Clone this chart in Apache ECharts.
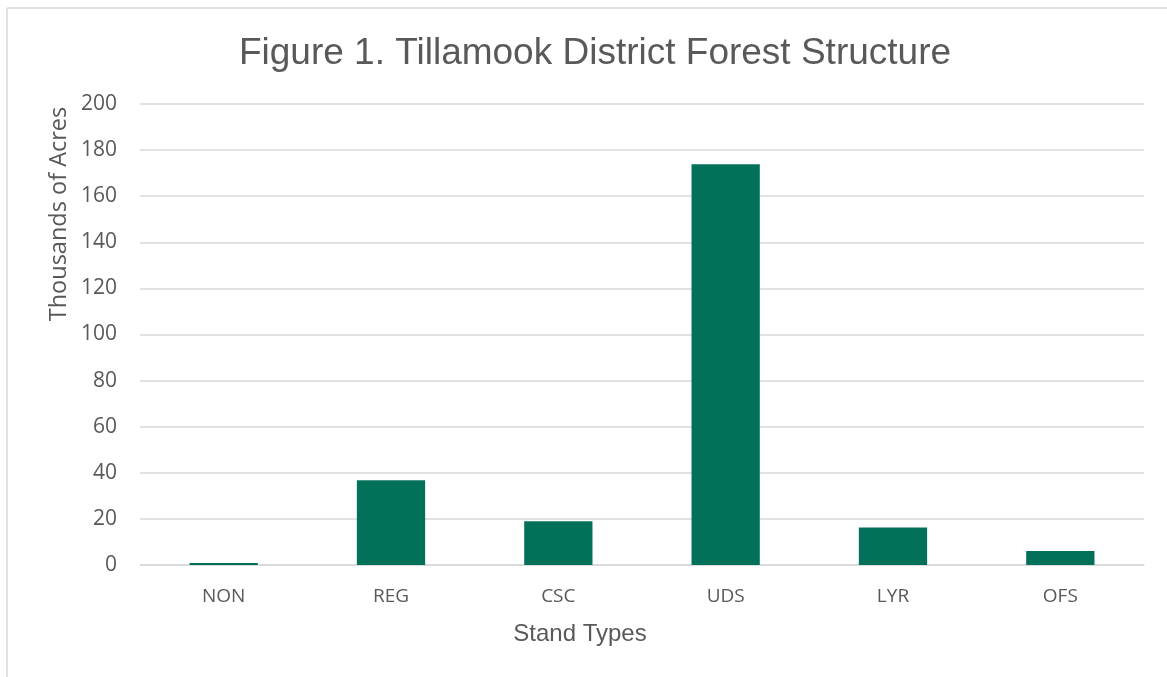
<!DOCTYPE html>
<html>
<head>
<meta charset="utf-8">
<script src="https://cdn.jsdelivr.net/npm/echarts@6/dist/echarts.min.js"></script>
<style>html,body{margin:0;padding:0;background:#fff;}#c{width:1167px;height:677px;}</style>
</head>
<body>
<div id="c"></div>
<script>
const categories = ['NON', 'REG', 'CSC', 'UDS', 'LYR', 'OFS'];
const acres = [0.9, 36.8, 19.0, 173.9, 16.3, 6.1];
const yTicks = [0, 20, 40, 60, 80, 100, 120, 140, 160, 180, 200];

const chart = echarts.init(document.getElementById('c'));
const txt = '#595959';
chart.setOption({
  backgroundColor: '#fff',
  animation: false,
  title: {
    text: 'Figure 1. Tillamook District Forest Structure',
    left: 590, top: 30, textAlign: 'center',
    textStyle: { fontFamily: 'Liberation Sans', fontSize: 37, fontWeight: 'normal', color: txt }
  },
  graphic: [
    { type: 'line', shape: { x1: 7, y1: 8, x2: 1167, y2: 8 }, style: { stroke: '#d9d9d9', lineWidth: 1.5 } },
    { type: 'line', shape: { x1: 7, y1: 8, x2: 7, y2: 677 }, style: { stroke: '#d9d9d9', lineWidth: 1.5 } },
    { type: 'text', x: 59, y: 214, rotation: Math.PI / 2,
      style: { text: 'Thousands of Acres', align: 'center', verticalAlign: 'middle', fill: txt, font: '23.5px "Open Sans"' } },
    { type: 'text', x: 580, y: 634,
      style: { text: 'Stand Types', align: 'center', verticalAlign: 'middle', fill: txt, font: '24px "Liberation Sans"' } }
  ],
  grid: { left: 140, right: 23, top: 104, bottom: 112 },
  xAxis: {
    type: 'category', data: categories,
    axisLine: { lineStyle: { color: '#d9d9d9', width: 1.5 } },
    axisTick: { show: false },
    axisLabel: { color: txt, fontFamily: 'Open Sans', fontSize: 19, margin: 22 }
  },
  yAxis: {
    type: 'value', min: 0, max: 200, interval: 20,
    axisLine: { show: false }, axisTick: { show: false },
    splitLine: { lineStyle: { color: '#d9d9d9', width: 1.5 } },
    axisLabel: { color: txt, fontFamily: 'Open Sans', fontSize: 21, margin: 23,
      formatter: v => yTicks.includes(v) ? String(v) : '' }
  },
  series: [{
    type: 'bar', data: acres, barWidth: '40.8%',
    itemStyle: { color: '#03715A' }
  }]
});
</script>
</body>
</html>
